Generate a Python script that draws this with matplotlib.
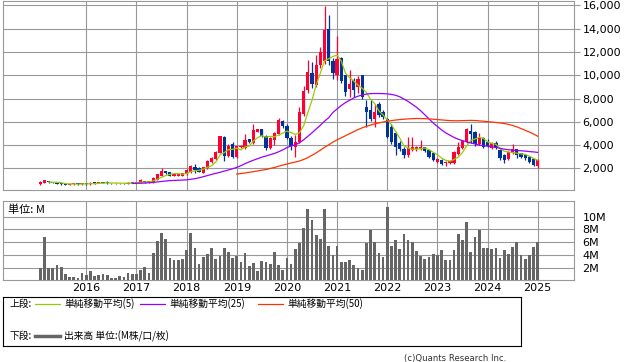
import numpy as np
import matplotlib
matplotlib.use("Agg")
import matplotlib.pyplot as plt

# ---- data: monthly candles Feb 2015 .. Jan 2025 (index 0 = Feb 2015) ----
opens = [650, 720, 900, 820, 760, 700, 640, 600, 620, 690, 620,
         680, 620, 760, 740, 780, 820, 740, 700, 700, 740, 680, 780,
         760, 720, 910, 790, 800, 1000, 1340, 1770, 1650, 1340, 1340, 1370,
         1480, 1650, 2140, 2050, 1620, 2000, 2510, 2790, 3340, 4700, 3050, 4080,
         2940, 3850, 3770, 4480, 4140, 5140, 5370, 4790, 3710, 4400, 4990, 6050,
         5650, 4620, 3850, 4280, 6650, 8700, 10190, 9190, 10850, 11190, 13940, 11190,
         10000, 11500, 9990, 8850, 9560, 8990, 9990, 7280, 7000, 6280, 7570, 6850,
         6280, 5570, 5000, 4200, 3700, 3150, 3550, 3650, 3700, 3800, 3550, 3280,
         2570, 2740, 2420, 2420, 2420, 3220, 3710, 4280, 5220, 5140, 4080, 4570,
         4280, 3770, 4200, 3570, 3140, 2770, 3340, 3620, 3280, 3140, 2990, 2770,
         2200]
highs = [880, 1030, 930, 850, 800, 740, 700, 700, 720, 720, 720,
         760, 800, 800, 800, 820, 900, 780, 740, 760, 760, 820, 840,
         820, 1050, 940, 900, 1250, 1550, 2000, 1800, 1700, 1560, 1540, 1620,
         1900, 2250, 2370, 2100, 2150, 2700, 3000, 3500, 4800, 4750, 4100, 4250,
         4000, 4000, 4940, 4550, 5770, 5400, 5400, 4850, 4650, 5150, 6340, 6150,
         5800, 4800, 4850, 7280, 9050, 11280, 11140, 11710, 12420, 15910, 15140, 11500,
         13340, 11600, 10000, 10420, 9800, 9900, 10000, 7850, 7850, 7570, 7710, 7000,
         6300, 5800, 5150, 4350, 3800, 4650, 4700, 3950, 4400, 3850, 3650, 3350,
         2850, 2800, 2600, 2700, 3500, 4280, 4450, 5450, 5790, 5200, 5050, 4650,
         4480, 4280, 4370, 3650, 3200, 3450, 4100, 3700, 3350, 3200, 3050, 2800,
         2780]
lows = [600, 700, 780, 700, 640, 560, 540, 570, 600, 600, 600,
        560, 600, 680, 700, 720, 680, 680, 660, 660, 680, 660, 720,
        720, 700, 760, 760, 780, 980, 1300, 1500, 1300, 1300, 1300, 1340,
        1450, 1600, 1620, 1650, 1580, 1950, 2450, 2700, 3300, 2620, 2950, 2900,
        2850, 3750, 3700, 4150, 4100, 5100, 4700, 3570, 3650, 4000, 4900, 5500,
        4500, 3600, 2990, 4150, 6500, 8500, 8940, 9000, 10600, 11000, 10850, 9700,
        9570, 9300, 8200, 8140, 8150, 8450, 8000, 5570, 6100, 5570, 6400, 6200,
        4600, 4100, 3140, 3450, 2850, 3000, 3450, 3500, 3550, 3400, 2900, 2600,
        2450, 2300, 2200, 2380, 2350, 3150, 3650, 4200, 4190, 3950, 4000, 3750,
        3800, 3700, 3650, 2750, 2420, 2700, 3250, 2900, 2850, 2750, 2500, 2200,
        2000]
closes = [850, 960, 800, 740, 680, 620, 600, 660, 690, 620, 700,
          620, 760, 720, 780, 740, 740, 700, 720, 740, 700, 780, 760,
          800, 970, 790, 850, 1190, 1500, 1790, 1570, 1370, 1510, 1480, 1570,
          1850, 2190, 1850, 1710, 2080, 2650, 2880, 3390, 4760, 3050, 3960, 2990,
          3940, 3940, 4420, 4220, 5280, 5340, 4790, 3770, 4570, 5050, 6140, 5620,
          4620, 3910, 4280, 6850, 8620, 10280, 9220, 10850, 11990, 13850, 11190, 10190,
          11420, 9500, 8600, 9280, 8700, 9700, 8140, 6850, 6280, 6850, 6570, 6420,
          4710, 4280, 3850, 3700, 3150, 3750, 3800, 3850, 3850, 3500, 3000, 2710,
          2790, 2400, 2530, 2650, 3420, 3850, 4370, 5370, 4910, 4080, 4650, 3850,
          3910, 4200, 3710, 2850, 2710, 3370, 3620, 3140, 2940, 2850, 2570, 2280,
          2740]
volume_m = [2.0, 6.9, 2.0, 2.0, 2.5, 2.25, 1.1, 0.7, 0.7, 0.55, 1.3,
            1.0, 1.6, 0.8, 1.0, 1.1, 1.0, 0.45, 0.45, 0.8, 0.7, 1.3, 1.2,
            1.2, 1.75, 2.25, 1.3, 4.3, 6.2, 7.5, 6.6, 3.6, 3.3, 3.3, 3.4,
            4.8, 7.5, 5.1, 2.7, 3.8, 4.2, 5.2, 3.4, 3.9, 5.2, 4.6, 3.6,
            3.9, 3.0, 4.3, 2.4, 2.9, 1.6, 3.2, 3.0, 2.7, 4.6, 2.5, 1.75,
            3.6, 2.7, 5.0, 5.9, 8.2, 11.1, 9.4, 7.1, 6.5, 11.1, 5.4, 4.05,
            5.4, 3.0, 3.0, 3.3, 2.5, 2.0, 1.75, 5.9, 7.9, 6.0, 4.4, 3.7,
            11.4, 5.4, 6.4, 5.0, 7.3, 6.4, 6.0, 4.7, 3.9, 3.4, 3.7, 4.2,
            4.05, 4.8, 3.3, 3.3, 4.8, 7.3, 6.4, 9.1, 4.5, 6.8, 7.9, 5.1,
            5.1, 5.0, 5.1, 3.6, 4.8, 4.2, 5.3, 6.0, 4.05, 3.4, 4.05, 5.3,
            6.0]

# moving averages (first value at the given month index)
ma5_start = 2
ma5 = [820, 800, 806, 760, 688, 660, 650, 638, 654, 658, 678, 684, 716, 724, 748,
       736, 736, 728, 720, 728, 740, 756, 802, 820, 834, 920, 1060, 1224, 1380,
       1484, 1548, 1544, 1500, 1556, 1720, 1788, 1834, 1936, 2096, 2234, 2542,
       3152, 3346, 3608, 3630, 3740, 3576, 3850, 3902, 4360, 4640, 4810, 4680,
       4750, 4704, 4864, 5030, 5200, 5068, 4914, 5056, 5656, 6788, 7850, 9164,
       10192, 11238, 11420, 11614, 11728, 11230, 10180, 9798, 9500, 9156, 8884,
       8534, 7934, 7564, 6938, 6594, 6166, 5766, 5166, 4592, 3938, 3746, 3650,
       3650, 3680, 3750, 3600, 3382, 3170, 2880, 2686, 2616, 2758, 2970, 3364,
       3932, 4384, 4516, 4676, 4572, 4280, 4138, 4064, 3704, 3476, 3400, 3350,
       3300, 3250, 3200, 3050, 2850, 2700]
ma25_start = 22
ma25 = [700, 710, 720, 740, 760, 790, 830, 870, 910, 940, 960, 975, 990, 1010,
        1060, 1110, 1190, 1280, 1380, 1480, 1570, 1660, 1760, 1860, 1960, 2080,
        2230, 2400, 2560, 2700, 2830, 2960, 3060, 3170, 3280, 3420, 3580, 3780,
        3920, 4020, 4200, 4450, 4750, 5050, 5380, 5700, 6050, 6350, 6800, 7100,
        7400, 7650, 7850, 8050, 8200, 8300, 8380, 8420, 8430, 8430, 8420, 8400,
        8350, 8280, 8150, 7950, 7750, 7500, 7250, 6950, 6600, 6250, 5900, 5600,
        5300, 5050, 4850, 4650, 4500, 4380, 4280, 4180, 4100, 4000, 3950, 3900,
        3850, 3800, 3720, 3650, 3600, 3560, 3530, 3510, 3480, 3440, 3410, 3370]
ma50_start = 47
ma50 = [1500, 1550, 1600, 1660, 1710, 1780, 1840, 1900, 1990, 2070, 2180, 2280,
        2370, 2460, 2540, 2630, 2760, 2920, 3120, 3330, 3560, 3800, 4020, 4250,
        4450, 4620, 4800, 4980, 5150, 5330, 5480, 5600, 5720, 5820, 5900, 5980,
        6050, 6100, 6150, 6190, 6220, 6250, 6270, 6280, 6280, 6270, 6250, 6220,
        6190, 6160, 6130, 6100, 6090, 6090, 6100, 6110, 6120, 6110, 6080, 6050,
        6010, 5980, 5940, 5900, 5850, 5780, 5680, 5560, 5420, 5270, 5120, 4950,
        4760]

years = ["2016", "2017", "2018", "2019", "2020", "2021", "2022", "2023", "2024", "2025"]
year_idx = [11, 23, 35, 47, 59, 71, 83, 95, 107, 119]
price_ticks = [2000, 4000, 6000, 8000, 10000, 12000, 14000, 16000]
vol_ticks = [2, 4, 6, 8, 10]

# ---- style ----
UP = "#ff0033"
DOWN = "#003399"
GRID = "#999999"
JP = ["Noto Sans CJK JP", "DejaVu Sans"]

W, H = 638, 362
fig = plt.figure(figsize=(W / 100, H / 100), dpi=100)
xlim = (-8.92, 127.68)

# --- price panel ---
ax = fig.add_axes([3 / W, 172 / H, 571 / W, 189.5 / H])
x = np.arange(len(closes))
o = np.array(opens, float)
c = np.array(closes, float)
hi = np.array(highs, float)
lo = np.array(lows, float)
colors = [UP if cc >= oo else DOWN for oo, cc in zip(o, c)]
ax.vlines(x, lo, hi, colors=colors, lw=0.9, zorder=3)
body = np.maximum(np.abs(c - o), 80)
ax.bar(x, body, bottom=np.minimum(o, c), width=0.78, color=colors, lw=0, zorder=3)

ax.plot(np.arange(len(ma5)) + ma5_start, ma5, color="#99cc00", lw=0.9, zorder=4)
ax.plot(np.arange(len(ma25)) + ma25_start, ma25, color="#9900ff", lw=0.9, zorder=4)
ax.plot(np.arange(len(ma50)) + ma50_start, ma50, color="#ff3300", lw=0.9, zorder=4)

ax.set_xlim(*xlim)
ax.set_ylim(137, 16424)
ax.set_xticks(year_idx)
ax.set_yticks(price_ticks)
ax.set_yticklabels([f"{v:,}" for v in price_ticks])
ax.yaxis.tick_right()
ax.tick_params(axis="x", length=0, labelbottom=False)
ax.tick_params(axis="y", length=4, color=GRID, labelsize=8, pad=2)
ax.grid(True, color=GRID, lw=0.8, zorder=0)
for s in ax.spines.values():
    s.set_color(GRID)
    s.set_linewidth(0.8)

# --- volume panel ---
av = fig.add_axes([3 / W, 82 / H, 571 / W, 79 / H])
av.bar(x, volume_m, width=0.65, color="#666666", lw=0, zorder=3)
av.set_xlim(*xlim)
av.set_ylim(0.2, 12.4)
av.set_xticks(year_idx)
av.set_xticklabels(years)
av.set_yticks(vol_ticks)
av.set_yticklabels([f"{v}M" for v in vol_ticks])
av.yaxis.tick_right()
av.tick_params(axis="x", length=0, labelsize=8, pad=2)
av.tick_params(axis="y", length=0, labelsize=8, pad=6)
av.grid(True, color=GRID, lw=0.8, zorder=0)
for s in av.spines.values():
    s.set_color(GRID)
    s.set_linewidth(0.8)
fig.text(8 / W, 1 - 210 / H, "単位: M", family=JP, fontsize=8, va="center", ha="left")

# --- legend box (pixel coordinates inside the box) ---
lg = fig.add_axes([3 / W, 16 / H, 518 / W, 49 / H])
lg.set_xlim(0, 518)
lg.set_ylim(49, 0)
lg.set_xticks([])
lg.set_yticks([])
for s in lg.spines.values():
    s.set_color("black")
    s.set_linewidth(0.8)
lg.text(6, 7, "上段:", family=JP, fontsize=7, va="center")
for x0, col, lab in [(32, "#99cc00", "単純移動平均(5)"),
                     (137, "#9900ff", "単純移動平均(25)"),
                     (255, "#ff3300", "単純移動平均(50)")]:
    lg.plot([x0, x0 + 25], [7, 7], color=col, lw=0.9)
    lg.text(x0 + 29, 7, lab, family=JP, fontsize=7, va="center")
lg.text(6, 39, "下段:", family=JP, fontsize=7, va="center")
lg.plot([32, 57], [39, 39], color="#666666", lw=2.5)
lg.text(61, 39, "出来高 単位:(M株/口/枚)", family=JP, fontsize=7, va="center")

fig.text(506 / W, 1 - 358 / H, "(c)Quants Research Inc.", fontsize=6.1,
         color="#333333", ha="right", va="center")

fig.savefig("out.png", dpi=100)
